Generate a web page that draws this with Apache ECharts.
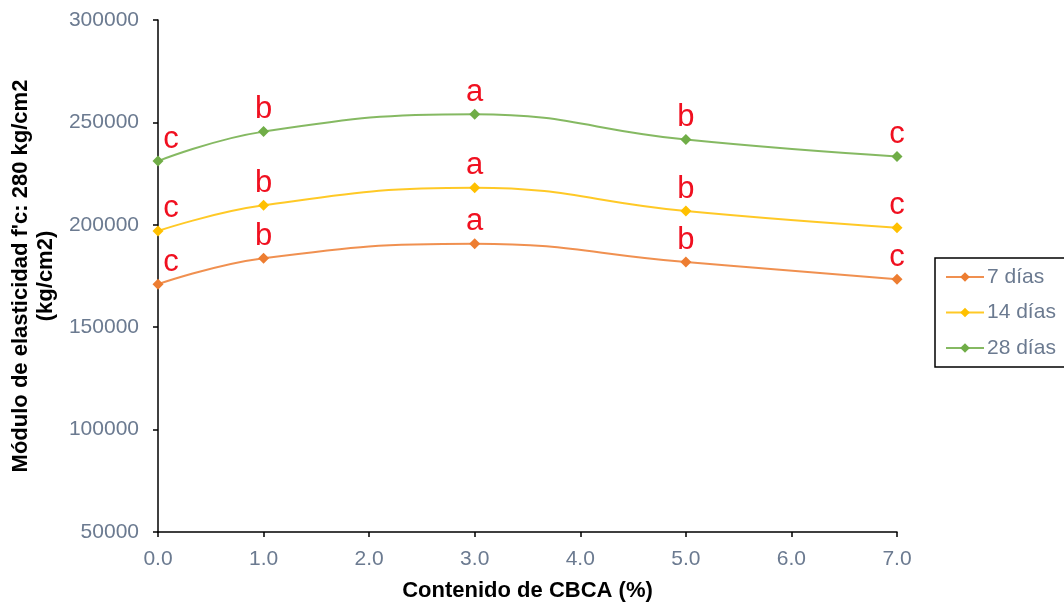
<!DOCTYPE html>
<html>
<head>
<meta charset="utf-8">
<script src="https://cdn.jsdelivr.net/npm/echarts@6/dist/echarts.min.js"></script>
<style>
html,body{margin:0;padding:0;background:#fff;}
#chart{width:1064px;height:606px;}
</style>
</head>
<body>
<div id="chart"></div>
<script>
var xValues = [0, 1, 3, 5, 7];
var seriesNames = ['7 días', '14 días', '28 días'];
var values7 = [171000, 183700, 190800, 181800, 173400];
var values14 = [197000, 209500, 218100, 206700, 198600];
var values28 = [231100, 245500, 254000, 241600, 233300];
var letters7 = ['c', 'b', 'a', 'b', 'c'];
var letters14 = ['c', 'b', 'a', 'b', 'c'];
var letters28 = ['c', 'b', 'a', 'b', 'c'];

var colors = ['#ED7D31', '#FFC000', '#70AD47'];
var allValues = [values7, values14, values28];
var allLetters = [letters7, letters14, letters28];
var FONT = 'Liberation Sans, Arial, sans-serif';

function makeSeries(i) {
  var vals = allValues[i];
  var lets = allLetters[i];
  var data = xValues.map(function (x, j) {
    var item = { value: [x, vals[j]] };
    if (j === 0) item.label = { offset: [13, 0] };
    return item;
  });
  return {
    name: seriesNames[i],
    type: 'line',
    smooth: 0.45,
    symbol: 'diamond',
    symbolSize: 11,
    color: colors[i],
    lineStyle: { width: 2, color: colors[i], opacity: 0.85 },
    itemStyle: { color: colors[i] },
    data: data,
    label: {
      show: true,
      position: 'top',
      distance: 1,
      color: '#F01020',
      fontFamily: FONT,
      fontSize: 31,
      formatter: function (p) { return lets[p.dataIndex]; }
    },
    z: 3 + i
  };
}

var chart = echarts.init(document.getElementById('chart'), null, { renderer: 'canvas' });
chart.setOption({
  animation: false,
  backgroundColor: '#fff',
  grid: { left: 158, right: 167, top: 20, bottom: 74, containLabel: false, outerBoundsMode: 'none' },
  xAxis: {
    type: 'value',
    min: 0, max: 7, interval: 1,
    name: 'Contenido de CBCA (%)',
    nameLocation: 'middle',
    nameGap: 48,
    nameTextStyle: { color: '#000', fontWeight: 'bold', fontSize: 22, fontFamily: FONT },
    axisLine: { lineStyle: { color: '#000', width: 1.5 } },
    axisTick: { show: true, length: 5, lineStyle: { color: '#000', width: 1.5 } },
    axisLabel: { color: '#6b7a90', fontSize: 21, margin: 17, fontFamily: FONT,
      formatter: function (v) { return v.toFixed(1); } },
    splitLine: { show: false }
  },
  yAxis: {
    type: 'value',
    min: 50000, max: 300000, interval: 50000,
    name: "Módulo de elasticidad f'c: 280 kg/cm2\n(kg/cm2)",
    nameLocation: 'middle',
    nameGap: 99,
    nameTextStyle: { color: '#000', fontWeight: 'bold', fontSize: 22, lineHeight: 25, fontFamily: FONT },
    axisLine: { show: true, lineStyle: { color: '#000', width: 1.5 } },
    axisTick: { show: true, length: 5, lineStyle: { color: '#000', width: 1.5 } },
    axisLabel: { color: '#6b7a90', fontSize: 21, margin: 19, fontFamily: FONT,
      formatter: function (v) { return String(v); } },
    splitLine: { show: false }
  },
  legend: {
    orient: 'vertical',
    left: 935,
    top: 258,
    padding: [8, 30, 8, 10],
    backgroundColor: '#fff',
    borderColor: '#000',
    borderWidth: 1.5,
    itemWidth: 38,
    itemHeight: 12,
    itemGap: 13.5,
    textStyle: { color: '#6b7a90', fontSize: 21, lineHeight: 22, padding: [0, 0, 0, -2], fontFamily: FONT },
    data: seriesNames
  },
  series: [makeSeries(0), makeSeries(1), makeSeries(2)]
});
</script>
</body>
</html>
